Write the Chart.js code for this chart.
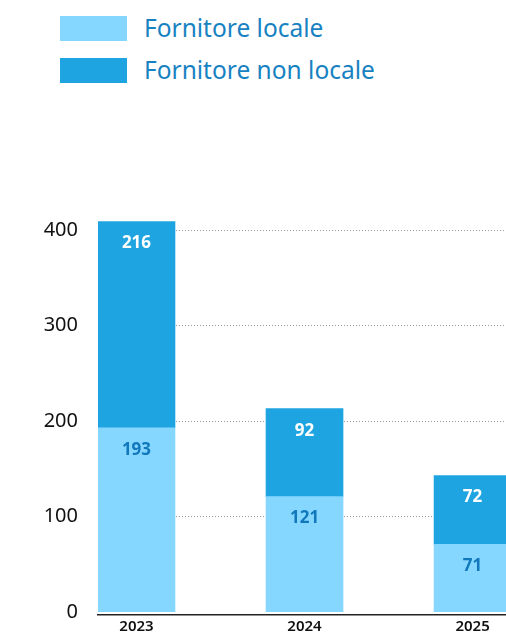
<!DOCTYPE html>
<html lang="it">
<head>
<meta charset="utf-8">
<title>Fornitori</title>
<script src="https://cdn.jsdelivr.net/npm/chart.js@4/dist/chart.umd.min.js"></script>
<style>
    html, body { margin: 0; padding: 0; background: #fff; overflow: hidden; }
    body { width: 506px; height: 634px; position: relative; font-family: 'Noto Sans', Lato, sans-serif; }
    .legend { position: absolute; left: 60px; top: 16px; }
    .legend-item { display: flex; align-items: center; height: 25px; margin-bottom: 17px; }
    .legend-box { width: 67px; height: 25px; margin-right: 17px; }
    .legend-item span { font-size: 24.5px; color: #1782c2; white-space: nowrap; position: relative; top: -1px; }
    .chart-wrap { position: absolute; left: 0; top: 0; width: 506px; height: 647px; }
</style>
</head>
<body>
<div class="legend" id="legend"></div>
<div class="chart-wrap"><canvas id="supplierChart"></canvas></div>

<script>
// Data
const years = ['2023', '2024', '2025'];
const seriesNames = ['Fornitore locale', 'Fornitore non locale'];
const localValues = [193, 121, 71];
const nonLocalValues = [216, 92, 72];
const yTicks = [0, 100, 200, 300, 400];

const colors = ['#86d7ff', '#1ea5e1'];
const labelColors = ['#1178bb', '#ffffff'];

// Build the HTML legend
function buildLegend() {
    const legend = document.getElementById('legend');
    seriesNames.forEach((name, i) => {
        const item = document.createElement('div');
        item.className = 'legend-item';
        item.innerHTML = `<div class="legend-box" style="background:${colors[i]}"></div><span>${name}</span>`;
        legend.appendChild(item);
    });
}

// Value labels near the top of every segment
const segmentLabels = {
    id: 'segmentLabels',
    afterDatasetsDraw(chart) {
        const ctx = chart.ctx;
        ctx.save();
        ctx.font = 'bold 17px "Noto Sans", Lato, sans-serif';
        ctx.textAlign = 'center';
        ctx.textBaseline = 'middle';
        chart.data.datasets.forEach((ds, di) => {
            const meta = chart.getDatasetMeta(di);
            ctx.fillStyle = labelColors[di];
            meta.data.forEach((bar, i) => {
                const top = Math.min(bar.y, bar.base);
                ctx.fillText(String(ds.data[i].y), bar.x, top + 22);
            });
        });
        ctx.restore();
    }
};

function initializeChart() {
    const toPoints = arr => arr.map((v, i) => ({ x: i, y: v }));
    const ctx = document.getElementById('supplierChart');

    new Chart(ctx, {
        type: 'bar',
        data: {
            datasets: [
                { label: seriesNames[0], data: toPoints(localValues), backgroundColor: colors[0] },
                { label: seriesNames[1], data: toPoints(nonLocalValues), backgroundColor: colors[1] }
            ]
        },
        options: {
            responsive: true,
            maintainAspectRatio: false,
            animation: false,
            layout: { padding: { top: 211, left: 0, right: 0, bottom: 0 } },
            datasets: { bar: { barThickness: 77 } },
            plugins: {
                legend: { display: false },
                tooltip: { enabled: false }
            },
            scales: {
                x: {
                    type: 'linear',
                    stacked: true,
                    offset: false,
                    min: -0.229,
                    max: 2.199,
                    afterBuildTicks: scale => {
                        scale.ticks = years.map((_, i) => ({ value: i }));
                    },
                    ticks: {
                        padding: 3,
                        color: '#111',
                        font: { family: '"Noto Sans", Lato, sans-serif', size: 15, weight: '600' },
                        callback: v => years[v]
                    },
                    grid: { display: false, drawTicks: false, offset: false },
                    border: { display: true, color: '#222', width: 1.5 }
                },
                y: {
                    stacked: true,
                    min: -3,
                    max: 420,
                    afterBuildTicks: scale => {
                        scale.ticks = yTicks.map(v => ({ value: v }));
                    },
                    afterFit: scale => { scale.width = 98; },
                    ticks: {
                        padding: 20,
                        color: '#111',
                        font: { family: '"Noto Sans", Lato, sans-serif', size: 20 }
                    },
                    grid: {
                        drawTicks: false,
                        color: c => c.tick && c.tick.value === 0 ? 'rgba(0,0,0,0)' : '#999',
                        lineWidth: 1
                    },
                    border: { display: false, dash: [1, 2] }
                }
            }
        },
        plugins: [segmentLabels]
    });
}

document.addEventListener('DOMContentLoaded', function () {
    buildLegend();
    initializeChart();
});
</script>
</body>
</html>
